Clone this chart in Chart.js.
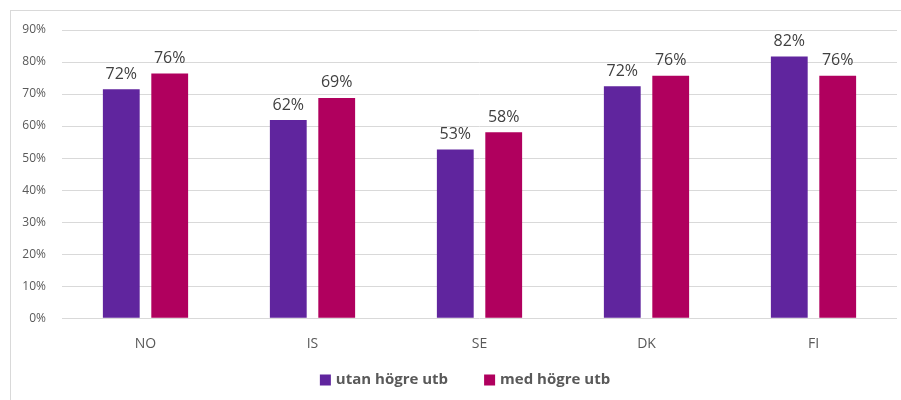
<!DOCTYPE html>
<html>
<head>
<meta charset="utf-8">
<script src="https://cdn.jsdelivr.net/npm/chart.js@4"></script>
<style>
  body { margin: 0; background: #fff; }
  #wrap { position: relative; width: 901px; height: 400px; overflow: hidden; }
  #frame { position: absolute; left: 10px; top: 10px; width: 900px; height: 400px;
           border: 1px solid #d9d9d9; box-sizing: border-box; }
  canvas { position: absolute; left: 0; top: 0; }
</style>
</head>
<body>
<div id="wrap">
  <div id="frame"></div>
  <canvas id="chart" width="901" height="400"></canvas>
</div>
<script>
// Data
const countries = ['NO', 'IS', 'SE', 'DK', 'FI'];
const utanHogreUtb = [71.5, 61.9, 52.7, 72.4, 81.7];
const medHogreUtb = [76.4, 68.8, 58.1, 75.7, 75.7];
const seriesNames = ['utan högre utb', 'med högre utb'];
const seriesColors = ['#60259e', '#b0005e'];

const FONT = "'Open Sans', 'Noto Sans', sans-serif";

// Draw the percentage above each bar
const valueLabels = {
    id: 'valueLabels',
    afterDatasetsDraw(chart) {
        const ctx = chart.ctx;
        ctx.save();
        ctx.font = `16px ${FONT}`;
        ctx.fillStyle = '#404040';
        ctx.textAlign = 'center';
        ctx.textBaseline = 'bottom';
        chart.data.datasets.forEach((ds, i) => {
            chart.getDatasetMeta(i).data.forEach((bar, j) => {
                ctx.fillText(Math.round(ds.data[j]) + '%', bar.x, bar.y - 7);
            });
        });
        ctx.restore();
    }
};

// Legend row under the axis, spaced like the original
const bottomLegend = {
    id: 'bottomLegend',
    afterDraw(chart) {
        const ctx = chart.ctx;
        const box = 11, gap = 5, itemGap = 36, y = 380, centre = 465;
        ctx.save();
        ctx.font = `bold 15px ${FONT}`;
        ctx.textBaseline = 'middle';
        const widths = chart.data.datasets.map(ds => box + gap + ctx.measureText(ds.label).width);
        const total = widths.reduce((a, b) => a + b, 0) + itemGap * (widths.length - 1);
        let x = centre - total / 2;
        chart.data.datasets.forEach((ds, i) => {
            ctx.fillStyle = ds.backgroundColor;
            ctx.fillRect(x, y - box / 2, box, box);
            ctx.fillStyle = '#595959';
            ctx.fillText(ds.label, x + box + gap, y);
            x += widths[i] + itemGap;
        });
        ctx.restore();
    }
};

new Chart(document.getElementById('chart'), {
    type: 'bar',
    data: {
        labels: countries,
        datasets: [
            { label: seriesNames[0], data: utanHogreUtb, backgroundColor: seriesColors[0] },
            { label: seriesNames[1], data: medHogreUtb, backgroundColor: seriesColors[1] }
        ]
    },
    options: {
        responsive: false,
        animation: false,
        categoryPercentage: 0.58,
        barPercentage: 0.76,
        layout: { padding: { left: 0, right: 4, top: 30, bottom: 39 } },
        plugins: {
            legend: { display: false },
            tooltip: { enabled: false }
        },
        scales: {
            x: {
                grid: { display: false },
                border: { display: false },
                ticks: { color: '#595959', padding: 9, font: { family: FONT, size: 14 } }
            },
            y: {
                min: 0,
                max: 90,
                afterFit(scale) { scale.width = 62; },
                border: { display: false },
                grid: { color: '#d9d9d9', drawTicks: false },
                ticks: {
                    stepSize: 10,
                    padding: 16,
                    color: '#595959',
                    font: { family: FONT, size: 12 },
                    callback: v => v + '%'
                }
            }
        }
    },
    plugins: [valueLabels, bottomLegend]
});
</script>
</body>
</html>
